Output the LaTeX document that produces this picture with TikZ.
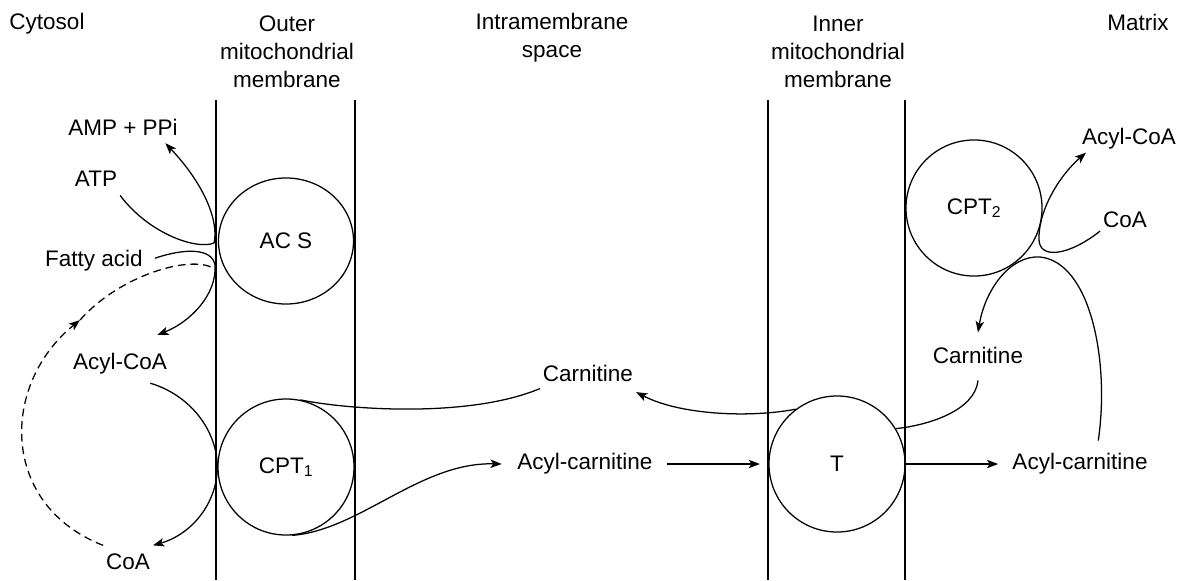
\documentclass[tikz,border=0pt]{standalone}
\usepackage{fontspec}
\setmainfont{Liberation Sans}
\usetikzlibrary{arrows.meta,shapes.geometric}

\begin{document}
\begin{tikzpicture}[x=0.025cm,y=-0.025cm,
		membrane/.style={line width=1.5pt},
		chem/.style={inner sep=2pt,font=\fontsize{16}{19.9}\selectfont,align=center},
		enzyme/.style={chem,draw,circle,line width=0.9pt,minimum size=3.4cm,inner sep=0pt},
		link/.style={line width=0.9pt},
		flow/.style={link,-{Stealth[length=8pt,width=6pt,inset=2pt]}},
		recycle/.style={dash pattern=on 5.5pt off 3.5pt}]
		\useasboundingbox (0,0) rectangle (1182,580);
		%membranes
		\draw[membrane] (216,100) -- (216,580) (355,100) -- (355,580);
		\draw[membrane] (768,100) -- (768,580) (905,100) -- (905,580);
		%headings
		\node[chem] (cytosol) at (47,24) {Cytosol};
		\node[chem] (outer) at (287,52) {Outer\\mitochondrial\\membrane};
		\node[chem] (inter) at (552,38) {Intramembrane\\space};
		\node[chem] (inner) at (838,52) {Inner\\mitochondrial\\membrane};
		\node[chem] (matrix) at (1138,22) {Matrix};
		%enzymes
		\node[enzyme,ellipse,minimum width=3.375cm,minimum height=3.15cm] (acs) at (286,241) {AC S};
		\node[enzyme] (cpt1) at (286,467) {CPT\textsubscript{1}};
		\node[enzyme] (t) at (837,464) {T};
		\node[enzyme] (cpt2) at (974,208) {CPT\textsubscript{2}};
		%cytosol side
		\node[chem] (amp) at (123,127) {AMP + PPi};
		\node[chem] (atp) at (96,179) {ATP};
		\node[chem] (fatty) at (94,261) {Fatty acid};
		\node[chem] (acoaL) at (120,364) {Acyl-CoA};
		\node[chem] (coaL) at (128,562) {CoA};
		%intramembrane space
		\node[chem] (carnM) at (588,373) {Carnitine};
		\node[chem] (acarnM) at (585,464) {Acyl-carnitine};
		%matrix side
		\node[chem] (acoaR) at (1129,139) {Acyl-CoA};
		\node[chem] (coaR) at (1125,220) {CoA};
		\node[chem] (carnR) at (978,355) {Carnitine};
		\node[chem] (acarnR) at (1080,464) {Acyl-carnitine};
		\coordinate (turn) at (80,320);
		\coordinate (back) at (213,268);
		%activation
		\draw[flow] ([yshift=-4pt]atp.south east) .. controls (150,235) and (198,250) .. (214,243) .. controls (219,222) and (205,185) .. ([xshift=-11pt,yshift=-3.5pt]amp.south east);
		\draw[flow] ([xshift=6.5pt,yshift=2pt]fatty.east) .. controls (185,248) and (212,248) .. (215,265) .. controls (217,295) and (190,322) .. ([xshift=-9pt,yshift=11pt]acoaL.north east);
		\draw[flow,recycle] ([yshift=4pt]coaL.north west) .. controls (0,505) and (0,385) .. (turn);
		\draw[link,recycle] (turn) .. controls (120,275) and (190,255) .. (back);
		%cpt1
		\draw[flow] ([xshift=-14pt,yshift=-4pt]acoaL.south east) .. controls (190,395) and (217,430) .. (cpt1.west) .. controls (217,505) and (190,535) .. ([yshift=4pt]coaL.north east);
		\draw[link] (cpt1.78) .. controls (350,410) and (470,418) .. ([yshift=-3pt]carnM.south west);
		\draw[flow] (cpt1.-85) .. controls (360,530) and (420,462) .. ([xshift=-9pt]acarnM.west);
		%translocase
		\draw[flow] ([xshift=8pt]acarnM.east) -- ([xshift=-6pt]t.west);
		\draw[flow] (t.127) .. controls (750,418) and (680,415) .. ([yshift=-5.5pt]carnM.south east);
		\draw[link] ([yshift=-10pt]carnR.south) .. controls (975,410) and (930,425) .. (t.31);
		\draw[flow] (t.east) -- ([xshift=-8pt]acarnR.west);
		%cpt2
		\draw[flow] ([shift={(13pt,7pt)}]acarnR.north) .. controls (1110,360) and (1090,262) .. (1040,257) .. controls (1010,255) and (985,290) .. ([yshift=8pt]carnR.north);
		\draw[flow] (coaR.south west) .. controls (1070,255) and (1040,260) .. (1039,240) .. controls (1038,210) and (1060,175) .. ([xshift=5pt]acoaR.south west);
	\end{tikzpicture}
\end{document}
